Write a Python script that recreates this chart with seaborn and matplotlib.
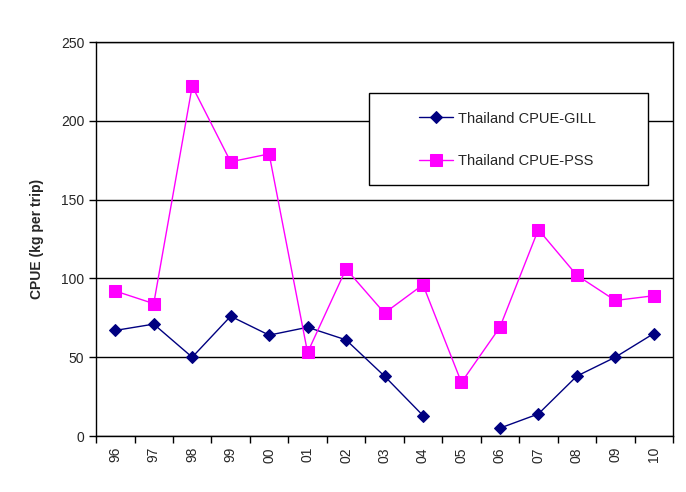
import numpy as np
import pandas as pd
import matplotlib
matplotlib.use('Agg')
import matplotlib.pyplot as plt
from matplotlib.patches import Rectangle
import seaborn as sns

years = ['96', '97', '98', '99', '00', '01', '02', '03', '04', '05', '06', '07', '08', '09', '10']
gill = [67, 71, 50, 76, 64, 69, 61, 38, 13, np.nan, 5, 14, 38, 50, 65]
pss = [92, 84, 222, 174, 179, 53, 106, 78, 96, 34, 69, 131, 102, 86, 89]

sns.set_style('white')
plt.rcParams['font.family'] = ['Liberation Sans', 'DejaVu Sans']

pos = np.arange(len(years))
# split the gill series where the value is missing so the line keeps its gap
gill_df = pd.DataFrame({'pos': pos, 'value': gill})
gill_df['seg'] = gill_df['value'].isna().cumsum()
gill_df = gill_df.dropna()
pss_df = pd.DataFrame({'pos': pos, 'value': pss})

fig = plt.figure(figsize=(6.86, 4.92), dpi=100)
ax = fig.add_axes([0.140, 0.1138, 0.841, 0.8008])

sns.lineplot(data=gill_df, x='pos', y='value', units='seg', estimator=None,
             color='#000080', marker='D', markersize=6, linewidth=1,
             markeredgecolor='#000080', ax=ax, legend=False)
sns.lineplot(data=pss_df, x='pos', y='value', color='#FF00FF', marker='s',
             markersize=8, linewidth=1, markeredgecolor='#FF00FF', ax=ax,
             legend=False)

ax.set_ylim(0, 250)
ax.set_yticks([0, 50, 100, 150, 200, 250])
ax.set_xlim(-0.5, len(years) - 0.5)
ax.set_xticks(np.arange(-0.5, len(years), 1))
ax.set_xticklabels([])
ax.set_xticks(pos, minor=True)
ax.set_xticklabels(years, minor=True, rotation=90, fontsize=10)
ax.tick_params(axis='x', which='major', direction='out', length=5, width=1, color='black', bottom=True)
ax.tick_params(axis='x', which='minor', length=0, pad=8, bottom=True)
ax.tick_params(axis='y', direction='out', length=5, width=1, color='black', labelsize=10, left=True)
ax.grid(axis='y', color='black', linewidth=1)
ax.set_axisbelow(True)
for s in ax.spines.values():
    s.set_color('black')
    s.set_linewidth(1)
ax.set_xlabel('')
ax.set_ylabel('CPUE (kg per trip)', fontsize=10, fontweight='bold', labelpad=12)

# legend box drawn separately so the entries sit in the middle like the original
box = Rectangle((0.473, 0.637), 0.484, 0.234, transform=ax.transAxes,
                facecolor='white', edgecolor='black', linewidth=1, zorder=5)
ax.add_patch(box)
lines = ax.get_lines()
handles = [lines[0], lines[-1]]
labels = ['Thailand CPUE-GILL', 'Thailand CPUE-PSS']
leg = ax.legend(handles, labels, loc='center left', bbox_to_anchor=(0.56, 0.752),
                frameon=False, fontsize=10.5, labelspacing=1.95, handlelength=2.3,
                handletextpad=0.4, borderpad=0, borderaxespad=0)
leg.set_zorder(6)

fig.savefig('out.png', dpi=100)
